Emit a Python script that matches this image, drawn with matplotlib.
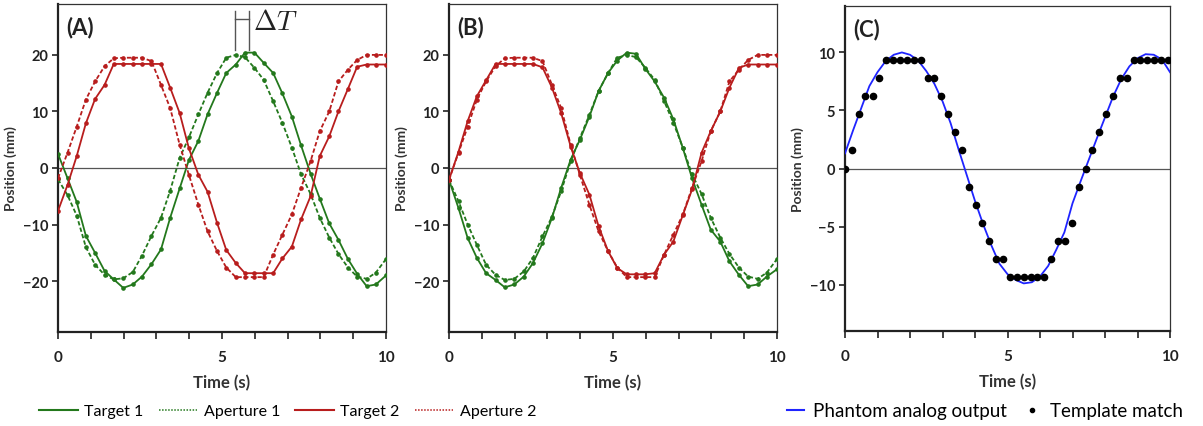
import matplotlib
matplotlib.use("Agg")
import matplotlib.pyplot as plt
from matplotlib.lines import Line2D

plt.rcParams["font.family"] = ["Lato", "DejaVu Sans"]
plt.rcParams["mathtext.fontset"] = "cm"

GREEN = "#23781c"
RED = "#b81d1d"
BLUE = "#1f24ff"

# sample times of the tracking data (s)
t_track = [0.0, 0.29, 0.57, 0.85, 1.13, 1.42, 1.70, 1.99, 2.28, 2.56, 2.85, 3.14,
           3.42, 3.71, 3.99, 4.28, 4.56, 4.85, 5.13, 5.42, 5.70, 5.99, 6.27, 6.56,
           6.84, 7.13, 7.41, 7.70, 7.98, 8.27, 8.55, 8.84, 9.12, 9.41, 9.69, 10.0]

# (A) raw
a_target1 = [2.5, -1.8, -6.0, -12.0, -15.0, -18.2, -19.7, -21.2, -20.6, -19.2, -17.0, -14.4,
             -8.8, -3.6, 1.4, 4.8, 9.5, 13.3, 16.8, 18.3, 20.4, 20.4, 18.6, 16.8,
             13.2, 9.1, 4.0, -1.0, -5.4, -9.8, -12.7, -16.1, -18.7, -20.9, -20.6, -19.0]
a_aperture1 = [-2.0, -4.8, -8.4, -14.0, -17.1, -18.9, -19.7, -19.5, -18.4, -15.5, -12.0, -8.8,
               -4.0, 1.8, 5.4, 9.5, 13.3, 16.8, 19.5, 20.0, 19.6, 17.7, 15.6, 11.8,
               8.0, 3.6, -1.1, -4.6, -8.8, -12.3, -15.2, -17.6, -19.2, -19.6, -18.5, -16.1]
a_target2 = [-7.6, -3.0, 2.1, 7.9, 12.2, 14.7, 18.4, 18.4, 18.4, 18.4, 18.4, 18.4,
             14.2, 9.7, 3.5, -1.2, -4.2, -9.7, -14.5, -16.8, -18.6, -18.6, -18.6, -18.6,
             -16.0, -13.9, -9.1, -5.0, 2.1, 5.6, 10.0, 14.0, 17.9, 18.3, 18.3, 18.3]
a_aperture2 = [-1.8, 2.7, 7.3, 12.1, 15.3, 18.0, 19.4, 19.5, 19.5, 19.5, 18.9, 14.7,
               10.6, 4.1, -1.2, -6.5, -11.2, -14.7, -17.6, -19.3, -19.3, -19.3, -19.3, -15.3,
               -11.8, -8.2, -3.5, 1.2, 6.5, 10.0, 15.3, 17.4, 19.1, 20.0, 20.0, 20.0]

# (B) after delay correction
b_target1 = [-2.1, -7.1, -12.4, -15.9, -18.6, -19.8, -21.1, -20.6, -19.2, -16.8, -13.3, -8.8,
             -3.5, 1.5, 5.0, 9.1, 13.6, 16.8, 19.0, 20.4, 20.2, 17.5, 15.3, 12.4,
             8.6, 3.5, -1.8, -6.5, -10.9, -13.0, -16.5, -18.9, -20.9, -20.6, -19.2, -17.9]
b_aperture1 = [-2.1, -5.9, -10.0, -13.6, -17.1, -18.9, -19.8, -19.6, -18.3, -15.9, -12.1, -8.6,
               -4.1, 1.2, 5.3, 9.4, 13.6, 16.8, 19.5, 20.0, 19.6, 17.7, 15.6, 11.8,
               8.0, 3.6, -1.1, -4.6, -8.8, -12.3, -15.2, -17.6, -19.2, -19.6, -18.5, -16.1]
b_target2 = [-2.1, 2.9, 8.3, 12.7, 15.5, 18.4, 18.4, 18.4, 18.4, 18.4, 17.8, 14.2,
             9.7, 3.8, -0.9, -4.7, -10.3, -14.7, -17.7, -18.8, -18.8, -18.8, -18.6, -15.3,
             -13.0, -8.3, -3.8, 2.7, 6.5, 10.0, 14.2, 17.7, 18.3, 18.3, 18.3, 18.3]
b_aperture2 = [-2.1, 2.7, 7.3, 12.1, 15.3, 18.0, 19.4, 19.5, 19.5, 19.5, 18.9, 14.7,
               10.6, 4.1, -1.2, -6.5, -11.2, -14.7, -17.6, -19.3, -19.3, -19.3, -19.3, -15.3,
               -11.8, -8.2, -3.5, 1.2, 6.5, 10.0, 15.3, 17.4, 19.1, 20.0, 20.0, 20.0]

# (C) phantom analog output
t_phantom = [0.0, 0.25, 0.5, 0.75, 1.0, 1.25, 1.5, 1.75, 2.0, 2.25, 2.5, 2.75, 3.0, 3.25,
             3.5, 3.75, 4.0, 4.25, 4.5, 4.75, 5.0, 5.25, 5.5, 5.75, 6.0, 6.25, 6.5, 6.75,
             7.0, 7.25, 7.5, 7.75, 8.0, 8.25, 8.5, 8.75, 9.0, 9.25, 9.5, 9.75, 10.0]
phantom = [1.3, 3.3, 5.2, 7.1, 8.3, 9.25, 9.8, 10.0, 9.8, 9.3, 8.4, 7.3, 5.8, 3.9,
           1.6, -0.6, -2.8, -4.8, -6.6, -8.2, -9.1, -9.6, -9.9, -9.8, -9.3, -8.4, -7.0, -5.5,
           -3.0, -1.1, 0.75, 2.6, 4.4, 6.2, 7.7, 8.8, 9.5, 9.85, 9.8, 9.4, 8.3]

# template match samples
t_match = [0.0, 0.21, 0.42, 0.63, 0.85, 1.06, 1.27, 1.48, 1.69, 1.90, 2.11, 2.33,
           2.54, 2.75, 2.96, 3.17, 3.38, 3.59, 3.81, 4.02, 4.23, 4.44, 4.65, 4.86,
           5.07, 5.29, 5.50, 5.71, 5.92, 6.13, 6.34, 6.56, 6.77, 6.98, 7.19, 7.40,
           7.61, 7.82, 8.03, 8.25, 8.46, 8.67, 8.88, 9.09, 9.30, 9.52, 9.73, 9.94]
match = [0.0, 1.56, 4.69, 6.25, 6.25, 7.81, 9.38, 9.38, 9.38, 9.38, 9.38, 9.38,
         7.81, 7.81, 6.25, 4.69, 3.13, 1.56, -1.56, -3.13, -4.69, -6.25, -7.81, -7.81,
         -9.38, -9.38, -9.38, -9.38, -9.38, -9.38, -7.81, -6.25, -6.25, -4.69, -1.56, 0.0,
         1.56, 3.13, 4.69, 6.25, 7.81, 7.81, 9.38, 9.38, 9.38, 9.38, 9.38, 9.38]

W, H = 1203, 427
fig = plt.figure(figsize=(W / 100, H / 100), dpi=100)


def make_axes(left, right, top, bottom):
    return fig.add_axes([left / W, 1 - bottom / H, (right - left) / W, (bottom - top) / H])


def style(ax, ylim, yticks, label):
    ax.set_xlim(0, 10)
    ax.set_ylim(*ylim)
    ax.set_xticks([0, 5, 10])
    ax.set_xticks(range(11), minor=True)
    ax.set_yticks(yticks)
    ax.axhline(0, color="#555555", lw=0.9, zorder=1)
    for s in ["left", "bottom"]:
        ax.spines[s].set_linewidth(1.6)
        ax.spines[s].set_color("#222222")
    for s in ["top", "right"]:
        ax.spines[s].set_linewidth(0.9)
        ax.spines[s].set_color("#333333")
    ax.tick_params(axis="x", which="both", direction="out", length=5, width=1.2, pad=8,
                   labelsize=11, color="#222222")
    ax.tick_params(axis="y", which="major", direction="out", length=4, width=1.2, pad=3,
                   labelsize=10.5, color="#222222")
    for lab in ax.get_xticklabels() + ax.get_yticklabels():
        lab.set_fontweight("bold")
        lab.set_color("#222222")
    ax.set_xlabel("Time (s)", fontsize=12, fontweight="bold", color="#333333")
    ax.set_ylabel("Position (mm)", fontsize=10, fontweight="bold", color="#333333")
    ax.xaxis.set_label_coords(0.5, -0.128)
    ax.yaxis.set_label_coords(-0.125, 0.5)
    ax.text(0.026, 0.93, label, transform=ax.transAxes, fontsize=16, fontweight="bold",
            ha="left", va="center", color="#222222")


def track(ax, t, y, color, dashed):
    kw = dict(color=color, lw=1.3, marker="o", ms=2.3, zorder=3)
    if dashed:
        ax.plot(t, y, dashes=(2.4, 1.3), **kw)
    else:
        ax.plot(t, y, **kw)


axA = make_axes(58, 386, 5, 333)
axB = make_axes(449, 777, 5, 333)
axC = make_axes(845, 1170, 7, 332)

for ax, series, lab in [
    (axA, [a_target1, a_aperture1, a_target2, a_aperture2], "(A)"),
    (axB, [b_target1, b_aperture1, b_target2, b_aperture2], "(B)"),
]:
    track(ax, t_track, series[0], GREEN, False)
    track(ax, t_track, series[1], GREEN, True)
    track(ax, t_track, series[2], RED, False)
    track(ax, t_track, series[3], RED, True)
    style(ax, (-29, 29), [-20, -10, 0, 10, 20], lab)

# delay marker in (A)
dt_left, dt_right = 5.4, 5.82
axA.plot([dt_left, dt_left], [20.8, 27.7], color="#555555", lw=1.0, clip_on=False)
axA.plot([dt_right, dt_right], [20.8, 27.7], color="#555555", lw=1.0, clip_on=False)
axA.plot([dt_left, dt_right], [26.3, 26.3], color="#555555", lw=1.0, clip_on=False)
axA.text(5.95, 26.0, r"$\Delta T$", fontsize=20, ha="left", va="center", color="#222222")

axC.plot(t_phantom, phantom, color=BLUE, lw=1.3, zorder=3)
axC.plot(t_match, match, "o", color="black", ms=4.5, zorder=4)
style(axC, (-14, 14), [-10, -5, 0, 5, 10], "(C)")

# legends
h_left = [
    Line2D([], [], color=GREEN, lw=1.5),
    Line2D([], [], color=GREEN, lw=1.1, ls=(0, (1, 1))),
    Line2D([], [], color=RED, lw=1.5),
    Line2D([], [], color=RED, lw=1.1, ls=(0, (1, 1))),
]
fig.legend(h_left, ["Target 1", "Aperture 1", "Target 2", "Aperture 2"],
           loc="center left", bbox_to_anchor=(25 / W, 1 - 412 / H), ncol=4, frameon=False,
           fontsize=11.5, handlelength=2.4, handletextpad=0.42, columnspacing=0.95)
h_right = [
    Line2D([], [], color=BLUE, lw=1.5),
    Line2D([], [], color="black", ls="none", marker="o", ms=3),
]
fig.legend(h_right, ["Phantom analog output", "Template match"],
           loc="center left", bbox_to_anchor=(770 / W, 1 - 412 / H), ncol=2, frameon=False,
           fontsize=13.5, handlelength=0.9, handletextpad=0.5, columnspacing=0.9)

fig.savefig("out.png", dpi=100)
